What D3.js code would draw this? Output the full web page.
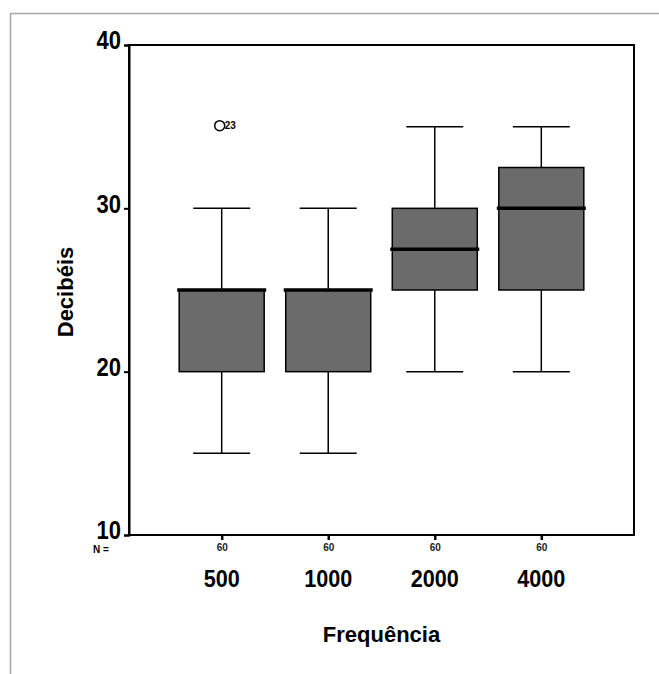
<!DOCTYPE html>
<html lang="pt">
  <head>
    <meta charset="utf-8">
    <script src="https://cdnjs.cloudflare.com/ajax/libs/d3/7.8.5/d3.min.js"></script>
    <title>Decibéis por Frequência</title>
    <style>
      body { margin: 0; background: #fff; }
      text { font-family: "Liberation Sans", Arial, sans-serif; }
    </style>
  </head>
  <body>
    <script>

    // data
    var categories = ["500", "1000", "2000", "4000"];
    var mins    = [15, 15, 20, 20];
    var q1s     = [20, 20, 25, 25];
    var medians = [25, 25, 27.5, 30];
    var q3s     = [25, 25, 30, 32.5];
    var maxs    = [30, 30, 35, 35];
    var counts  = [60, 60, 60, 60];
    var outliers = [{cat: "500", value: 35, label: "23"}];
    var yTicks = [10, 20, 30, 40];

    var margin = {top: 45, left: 129, bottom: 139, right: 25},
        width = 659 - margin.left - margin.right,
        height = 674 - margin.top - margin.bottom;

    var svg = d3.select("body").append("svg")
        .attr("width", 659)
        .attr("height", 674);

    // page frame
    svg.append("path")
        .attr("d", "M10.5,674 V13.5 H659")
        .attr("fill", "none")
        .attr("stroke", "#a8a8a8")
        .attr("stroke-width", 1.5);

    var g = svg.append("g")
        .attr("transform", "translate(" + [margin.left, margin.top] + ")");

    var y = d3.scaleLinear().domain([10, 40]).range([height, 0]);
    var x = d3.scalePoint().domain(categories).range([0, width]).padding(0.87);

    var boxW = 85, capW = 57;

    var data = categories.map(function(c, i) {
      return {cat: c, min: mins[i], q1: q1s[i], med: medians[i], q3: q3s[i], max: maxs[i], n: counts[i]};
    });

    // frame of the plot
    g.append("rect")
        .attr("width", width).attr("height", height)
        .attr("fill", "none").attr("stroke", "#000").attr("stroke-width", 2);

    function squeeze(sel, k) {
      sel.each(function() {
        var w = this.getComputedTextLength();
        d3.select(this).attr("textLength", w * k).attr("lengthAdjust", "spacingAndGlyphs");
      });
    }

    // y axis
    var yAxis = g.append("g")
        .call(d3.axisLeft(y).tickValues(yTicks).tickSize(5).tickPadding(3).tickFormat(d3.format("d")));
    yAxis.select(".domain").attr("stroke-width", 2);
    yAxis.selectAll(".tick line").attr("stroke-width", 2);
    yAxis.selectAll(".tick text")
        .attr("font-size", 25).attr("font-weight", "bold").attr("fill", "#000")
        .attr("dy", "0.15em");
    squeeze(yAxis.selectAll(".tick text"), 0.88);

    // x axis with N counts
    var xAxis = g.append("g")
        .attr("transform", "translate(0," + height + ")")
        .call(d3.axisBottom(x).tickSize(5).tickPadding(4).tickFormat(function(d, i) { return counts[i]; }));
    xAxis.select(".domain").remove();
    xAxis.selectAll(".tick line").attr("stroke-width", 2.5);
    xAxis.selectAll(".tick text").attr("font-size", 10).attr("font-weight", "bold").attr("fill", "#222");

    g.append("text")
        .attr("x", -36).attr("y", height + 18)
        .attr("font-size", 10).attr("font-weight", "bold")
        .text("N =");

    // category labels
    g.selectAll(".cat")
        .data(categories)
        .enter().append("text")
        .attr("class", "cat")
        .attr("x", function(d) { return x(d); })
        .attr("y", height + 52)
        .attr("text-anchor", "middle")
        .attr("font-size", 24).attr("font-weight", "bold")
        .text(function(d) { return d; });
    squeeze(g.selectAll(".cat"), 0.9);

    // axis titles
    g.append("text")
        .attr("x", width / 2).attr("y", height + 107)
        .attr("text-anchor", "middle")
        .attr("font-size", 22).attr("font-weight", "bold")
        .text("Frequência");

    g.append("text")
        .attr("transform", "translate(-56," + (height / 2 + 2) + ") rotate(-90)")
        .attr("text-anchor", "middle")
        .attr("font-size", 22).attr("font-weight", "bold")
        .text("Decibéis");

    // boxes
    var box = g.selectAll(".box")
        .data(data)
        .enter().append("g")
        .attr("class", "box")
        .attr("transform", function(d) { return "translate(" + x(d.cat) + ",0)"; });

    box.append("line")
        .attr("y1", function(d) { return y(d.max); })
        .attr("y2", function(d) { return y(d.q3); })
        .attr("stroke", "#000").attr("stroke-width", 1.5);
    box.append("line")
        .attr("y1", function(d) { return y(d.q1); })
        .attr("y2", function(d) { return y(d.min); })
        .attr("stroke", "#000").attr("stroke-width", 1.5);
    box.append("line")
        .attr("x1", -capW / 2).attr("x2", capW / 2)
        .attr("y1", function(d) { return y(d.max); })
        .attr("y2", function(d) { return y(d.max); })
        .attr("stroke", "#000").attr("stroke-width", 1.5);
    box.append("line")
        .attr("x1", -capW / 2).attr("x2", capW / 2)
        .attr("y1", function(d) { return y(d.min); })
        .attr("y2", function(d) { return y(d.min); })
        .attr("stroke", "#000").attr("stroke-width", 1.5);

    box.append("rect")
        .attr("x", -boxW / 2).attr("width", boxW)
        .attr("y", function(d) { return y(d.q3); })
        .attr("height", function(d) { return y(d.q1) - y(d.q3); })
        .attr("fill", "#6b6b6b").attr("stroke", "#000").attr("stroke-width", 1.5);

    box.append("line")
        .attr("x1", -boxW / 2 - 2).attr("x2", boxW / 2 + 2)
        .attr("y1", function(d) { return y(d.med); })
        .attr("y2", function(d) { return y(d.med); })
        .attr("stroke", "#000").attr("stroke-width", 3.5);

    // outliers
    var out = g.selectAll(".out")
        .data(outliers)
        .enter().append("g")
        .attr("class", "out");
    out.append("circle")
        .attr("cx", function(d) { return x(d.cat) - 2; })
        .attr("cy", function(d) { return y(d.value) - 1; })
        .attr("r", 5)
        .attr("fill", "#fff").attr("stroke", "#000").attr("stroke-width", 1.5);
    out.append("text")
        .attr("x", function(d) { return x(d.cat) + 3; })
        .attr("y", function(d) { return y(d.value) + 2; })
        .attr("font-size", 10).attr("font-weight", "bold")
        .text(function(d) { return d.label; });

    </script>
  </body>
</html>
